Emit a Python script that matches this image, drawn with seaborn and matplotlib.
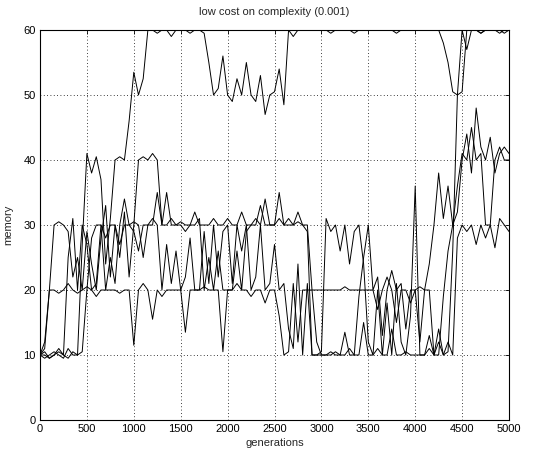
import matplotlib
matplotlib.use("Agg")
import matplotlib.pyplot as plt
import seaborn as sns
import pandas as pd
import numpy as np

generations = list(range(0, 5001, 50))

run_a = [10, 10.5, 9.5, 10, 11, 10, 9.5, 10.5, 10, 27,
         41, 38, 40.5, 37, 24, 31, 40, 40.5, 40, 46,
         53.5, 50, 52.5, 60, 60, 59.5, 60, 60, 59, 60,
         60, 60, 59.5, 60, 60, 59.5, 55, 50, 51, 56,
         50, 49, 52.5, 50, 55, 50, 49, 53, 47, 50,
         50.5, 54, 48.5, 60, 59, 60, 60, 60, 60, 60,
         60, 60, 59.5, 60, 60, 60, 60, 59.5, 60, 60,
         60, 60, 60, 60, 60, 60, 59.5, 60, 60, 60,
         60, 60, 60, 60, 60, 60, 58, 55, 50.5, 50,
         60, 57, 60, 60, 59.5, 60, 60, 60, 59.5, 60,
         60]

run_b = [10, 12, 20, 20, 19.5, 20, 21, 20, 19.5, 20,
         20.5, 20, 19, 20, 20, 20, 20, 19.5, 20, 20,
         11.5, 20, 21, 20, 15.5, 20, 19, 20, 20, 20,
         20, 13.5, 20, 20, 20, 20.5, 20, 20, 20, 10.5,
         20, 20, 21, 20, 20, 19, 20, 20, 18, 20,
         20, 16, 10, 10.5, 21, 12, 20, 20, 20, 20,
         20, 20, 20, 20, 20, 20.5, 20, 20, 20, 20,
         20, 20, 17, 20, 22, 20, 15, 20, 20, 18,
         20, 20.5, 20, 24, 30, 38, 31, 36, 30, 32,
         40, 44, 38, 48, 42, 40, 43.5, 38, 41, 42,
         41]

run_c = [10, 11, 20, 30, 30.5, 30, 29, 22, 25, 20,
         29, 24, 20, 28, 33, 22, 30, 25, 32, 22,
         30, 40, 40.5, 40, 41, 40, 30, 35, 30, 30,
         30.5, 30, 30, 32, 30, 30, 30, 31, 30, 30,
         31, 30, 30, 32, 30, 30, 30, 33, 30, 30,
         30, 35, 30, 31, 30, 32, 30, 29, 10, 10,
         10.5, 31, 29, 30, 26, 30, 24, 29, 30, 24,
         12, 10, 20, 10, 18, 10, 21, 12, 10, 16,
         36, 10, 10, 13, 10, 14, 10, 10.5, 26, 50,
         50.5, 60, 60, 60, 59.5, 60, 60, 60, 60, 59.5,
         60]

run_d = [10, 9.5, 10, 10.5, 10, 9.5, 11, 10, 10, 10.5,
         20, 28, 30, 30, 28, 30, 30, 27, 30, 30,
         29, 26, 30, 30, 31, 30, 20, 27, 21, 26,
         20, 22, 28, 20, 20, 29, 21, 30, 22, 29,
         30, 21, 30, 26, 30, 20, 22, 30, 20, 21,
         27, 20, 21, 14, 11, 24, 10, 21, 10, 10,
         10, 10, 10.5, 10, 10, 13.5, 10, 10, 19, 25,
         30, 20, 22, 13, 20, 23, 20, 21, 14, 20,
         20, 12, 20, 20, 10, 12, 10, 12, 10, 28,
         30, 29, 30, 27, 30, 28, 30, 26.5, 31, 30,
         29]

run_e = [10, 10, 9.5, 10, 10.5, 10, 25, 31, 20, 30,
         27, 20, 21, 30, 20, 25, 21, 30, 34, 30,
         30.5, 30, 25, 30, 30, 35, 30, 30, 31, 30,
         30, 29, 30, 30, 31, 20, 25, 20, 26, 20,
         20, 20, 26, 20, 29, 30, 31, 30, 34, 30,
         30, 31, 30, 30, 30, 30.5, 30, 30, 20, 12,
         10, 10, 10, 10.5, 10, 10, 11, 10, 10, 15,
         10, 10, 11, 10, 10, 14, 10, 10, 10.5, 10,
         10, 10, 10, 11, 10, 10, 19, 26, 30, 36,
         41, 40, 45, 40, 41, 30, 30, 40, 42, 40,
         40]

runs = {"a": run_a, "b": run_b, "c": run_c, "d": run_d, "e": run_e}

x_ticks = [0, 500, 1000, 1500, 2000, 2500, 3000, 3500, 4000, 4500, 5000]
y_ticks = [0, 10, 20, 30, 40, 50, 60]

frames = []
for name, vals in runs.items():
    frames.append(pd.DataFrame({"generations": generations, "memory": vals, "run": name}))
df = pd.concat(frames, ignore_index=True)

sns.set_style("white")
plt.rcParams["font.family"] = ["Liberation Sans", "DejaVu Sans"]

fig = plt.figure(figsize=(5.51, 4.54), dpi=100)
ax = fig.add_axes([40 / 551, 34 / 454, 469 / 551, 390 / 454])

sns.lineplot(data=df, x="generations", y="memory", hue="run",
             palette=["black"] * len(runs), legend=False, ax=ax,
             linewidth=0.7, estimator=None, sort=False)

ax.set_xlim(0, 5000)
ax.set_ylim(0, 60)
ax.set_xticks(x_ticks)
ax.set_yticks(y_ticks)
ax.set_xticklabels([str(t) for t in x_ticks], fontsize=8)
ax.set_yticklabels([str(t) for t in y_ticks], fontsize=8)
ax.grid(True, color="black", linestyle=(0, (1, 3)), linewidth=0.6)
ax.tick_params(direction="in", length=3, width=0.6, top=True, right=True,
               colors="black", pad=3)
for sp in ax.spines.values():
    sp.set_color("black")
    sp.set_linewidth(0.8)
ax.set_title("low cost on complexity (0.001)", fontsize=8, pad=11)
ax.set_xlabel("generations", fontsize=8, labelpad=3)
ax.set_ylabel("memory", fontsize=8, labelpad=7)

fig.savefig("out.png", dpi=100, facecolor="white")
